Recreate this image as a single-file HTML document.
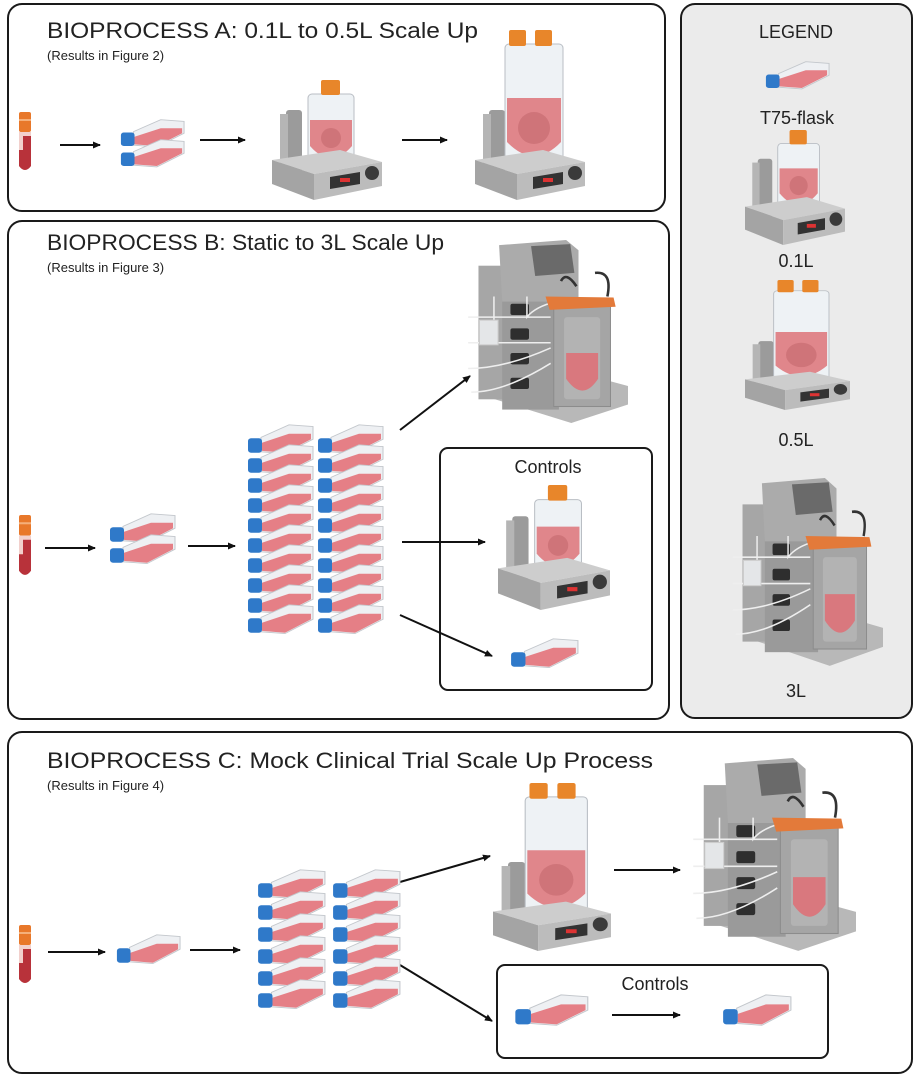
<!DOCTYPE html>
<html><head><meta charset="utf-8"><style>
html,body{margin:0;padding:0;background:#fff;}
svg{display:block;font-family:"Liberation Sans",sans-serif;}
</style></head><body>
<svg width="919" height="1078" viewBox="0 0 919 1078" xmlns="http://www.w3.org/2000/svg">
<defs>
<marker id="ah" markerWidth="8" markerHeight="8" refX="7" refY="4" orient="auto" markerUnits="userSpaceOnUse"><path d="M0,0.5 L8,4 L0,7.5 Z" fill="#111"/></marker>
<symbol id="tube" viewBox="0 0 14 60" preserveAspectRatio="none">
<rect x="1" y="0" width="12" height="20" rx="2" fill="#e8782a"/>
<rect x="1" y="7" width="12" height="2" fill="#f5b07a"/>
<path d="M1,20 H13 V54 Q7,62 1,54 Z" fill="#f2d0cc"/>
<path d="M5,24 H13 V54 Q7,62 1,54 V38 H5 Z" fill="#b8323a"/>
</symbol>
<symbol id="flask" viewBox="0 0 70 40" preserveAspectRatio="none">
<path d="M16,16 L44,2 L68,4 L68,18 L40,34 L16,32 Z" fill="#eef0f3" stroke="#c3c7cc" stroke-width="1"/>
<path d="M17,22 L44,12 L66,12 L66,18 L40,33 L17,31 Z" fill="#e57f86"/>
<rect x="3" y="17" width="14" height="16" rx="3" fill="#2f79c9"/>
</symbol>
<symbol id="stir" viewBox="0 0 110 120" preserveAspectRatio="none">
<rect x="14" y="30" width="16" height="62" rx="3" fill="#9b9b9b"/>
<rect x="8" y="34" width="8" height="56" fill="#b5b5b5"/>
<rect x="36" y="14" width="46" height="70" rx="4" fill="#eef2f5" stroke="#b9bec4"/>
<path d="M38,40 H80 V66 Q59,90 38,66 Z" fill="#e0868b"/>
<circle cx="59" cy="58" r="10" fill="#cf7479"/>
<rect x="49" y="0" width="19" height="15" rx="2" fill="#e8862a"/>
<polygon points="0,80 68,70 110,82 42,94" fill="#cdcdcd"/>
<polygon points="0,80 42,94 42,120 0,104" fill="#a4a4a4"/>
<polygon points="42,94 110,82 110,106 42,120" fill="#bcbcbc"/>
<polygon points="58,97 88,92 88,104 58,109" fill="#333"/>
<rect x="68" y="98" width="10" height="4" fill="#d33"/>
<circle cx="100" cy="93" r="7" fill="#3a3a3a"/>
</symbol>
<symbol id="big" viewBox="0 0 110 170" preserveAspectRatio="none">
<rect x="14" y="80" width="16" height="62" rx="3" fill="#9b9b9b"/>
<rect x="8" y="84" width="8" height="56" fill="#b5b5b5"/>
<rect x="30" y="14" width="58" height="122" rx="4" fill="#eef2f5" stroke="#b9bec4"/>
<path d="M32,68 H86 V112 Q59,140 32,112 Z" fill="#e0868b"/>
<circle cx="59" cy="98" r="16" fill="#cf7479"/>
<rect x="34" y="0" width="17" height="16" rx="2" fill="#e8862a"/>
<rect x="60" y="0" width="17" height="16" rx="2" fill="#e8862a"/>
<polygon points="0,130 68,120 110,132 42,144" fill="#cdcdcd"/>
<polygon points="0,130 42,144 42,170 0,154" fill="#a4a4a4"/>
<polygon points="42,144 110,132 110,156 42,170" fill="#bcbcbc"/>
<polygon points="58,147 88,142 88,154 58,159" fill="#333"/>
<rect x="68" y="148" width="10" height="4" fill="#d33"/>
<circle cx="100" cy="143" r="7" fill="#3a3a3a"/>
</symbol>
<symbol id="r3" viewBox="0 0 160 180" preserveAspectRatio="none">
<polygon points="15,150 105,178 160,160 160,142 70,118" fill="#b8b8b8"/>
<rect x="15" y="25" width="25" height="130" fill="#a6a6a6"/>
<rect x="38" y="45" width="55" height="120" fill="#9a9a9a"/>
<polygon points="35,5 100,0 112,10 112,60 38,60" fill="#ababab"/>
<polygon points="66,6 104,4 108,32 70,35" fill="#6a6a6a"/>
<g fill="#2e2e2e"><rect x="46" y="62" width="18" height="11" rx="2"/><rect x="46" y="86" width="18" height="11" rx="2"/><rect x="46" y="110" width="18" height="11" rx="2"/><rect x="46" y="134" width="18" height="11" rx="2"/></g>
<g fill="none" stroke="#eee" stroke-width="1.5"><path d="M5,75 H85"/><path d="M5,100 H85"/><path d="M5,125 Q40,125 85,105"/><path d="M8,148 Q40,148 85,120"/><path d="M30,55 V80 M62,55 V75 Q70,65 90,60"/></g>
<rect x="16" y="78" width="18" height="24" fill="#e4e6e8" stroke="#ccc"/>
<rect x="88" y="62" width="55" height="100" fill="#a5a5a5" stroke="#8c8c8c"/>
<polygon points="80,55 146,56 148,65 84,68" fill="#e37a3a"/>
<rect x="98" y="75" width="35" height="80" rx="3" fill="#b3b3b3"/>
<path d="M100,110 H131 V135 Q116,158 100,135 Z" fill="#d9787e"/>
<path d="M95,40 Q100,30 110,45 M128,32 Q145,30 140,55" fill="none" stroke="#333" stroke-width="2.5"/>
</symbol>
</defs>

<rect x="8" y="4" width="657" height="207" rx="14" fill="#fff" stroke="#1a1a1a" stroke-width="2"/>
<rect x="681" y="4" width="231" height="714" rx="14" fill="#ebebeb" stroke="#1a1a1a" stroke-width="2"/>
<rect x="8" y="221" width="661" height="498" rx="14" fill="#fff" stroke="#1a1a1a" stroke-width="2"/>
<rect x="8" y="732" width="904" height="341" rx="14" fill="#fff" stroke="#1a1a1a" stroke-width="2"/>
<rect x="440" y="448" width="212" height="242" rx="8" fill="#fff" stroke="#1a1a1a" stroke-width="2"/>
<rect x="497" y="965" width="331" height="93" rx="8" fill="#fff" stroke="#1a1a1a" stroke-width="2"/>

<g fill="#222">
<text x="47" y="38" font-size="22" textLength="431" lengthAdjust="spacingAndGlyphs">BIOPROCESS A: 0.1L to 0.5L Scale Up</text>
<text x="47" y="60" font-size="13">(Results in Figure 2)</text>
<text x="47" y="250" font-size="22" textLength="397" lengthAdjust="spacingAndGlyphs">BIOPROCESS B: Static to 3L Scale Up</text>
<text x="47" y="272" font-size="13">(Results in Figure 3)</text>
<text x="47" y="768" font-size="22" textLength="606" lengthAdjust="spacingAndGlyphs">BIOPROCESS C: Mock Clinical Trial Scale Up Process</text>
<text x="47" y="790" font-size="13">(Results in Figure 4)</text>
<g font-size="18" text-anchor="middle">
<text x="796" y="38">LEGEND</text>
<text x="797" y="124">T75-flask</text>
<text x="796" y="267">0.1L</text>
<text x="796" y="446">0.5L</text>
<text x="796" y="697">3L</text>
<text x="548" y="473">Controls</text>
<text x="655" y="990">Controls</text>
</g>
</g>

<g stroke="#111" stroke-width="2" marker-end="url(#ah)">
<line x1="60" y1="145" x2="100" y2="145"/>
<line x1="200" y1="140" x2="245" y2="140"/>
<line x1="402" y1="140" x2="447" y2="140"/>
<line x1="45" y1="548" x2="95" y2="548"/>
<line x1="188" y1="546" x2="235" y2="546"/>
<line x1="400" y1="430" x2="470" y2="376"/>
<line x1="402" y1="542" x2="485" y2="542"/>
<line x1="400" y1="615" x2="492" y2="656"/>
<line x1="48" y1="952" x2="105" y2="952"/>
<line x1="190" y1="950" x2="240" y2="950"/>
<line x1="400" y1="882" x2="490" y2="856"/>
<line x1="614" y1="870" x2="680" y2="870"/>
<line x1="400" y1="965" x2="492" y2="1021"/>
<line x1="612" y1="1015" x2="680" y2="1015"/>
</g>

<use href="#tube" x="18" y="112" width="14" height="60"/>
<use href="#flask" x="118" y="118" width="68" height="34"/>
<use href="#flask" x="118" y="138" width="68" height="34"/>
<use href="#stir" x="272" y="80" width="110" height="120"/>
<use href="#big" x="475" y="30" width="110" height="170"/>

<use href="#flask" x="763" y="60" width="68" height="34"/>
<use href="#stir" x="745" y="130" width="100" height="115"/>
<use href="#big" x="745" y="280" width="105" height="130"/>
<use href="#r3" x="728" y="478" width="155" height="190"/>

<use href="#tube" x="18" y="515" width="14" height="62"/>
<use href="#flask" x="107" y="512" width="70" height="36"/>
<use href="#flask" x="107" y="533" width="70" height="36"/>
<g>
<use href="#flask" x="245" y="423" width="70" height="36"/><use href="#flask" x="315" y="423" width="70" height="36"/>
<use href="#flask" x="245" y="443" width="70" height="36"/><use href="#flask" x="315" y="443" width="70" height="36"/>
<use href="#flask" x="245" y="463" width="70" height="36"/><use href="#flask" x="315" y="463" width="70" height="36"/>
<use href="#flask" x="245" y="483" width="70" height="36"/><use href="#flask" x="315" y="483" width="70" height="36"/>
<use href="#flask" x="245" y="503" width="70" height="36"/><use href="#flask" x="315" y="503" width="70" height="36"/>
<use href="#flask" x="245" y="523" width="70" height="36"/><use href="#flask" x="315" y="523" width="70" height="36"/>
<use href="#flask" x="245" y="543" width="70" height="36"/><use href="#flask" x="315" y="543" width="70" height="36"/>
<use href="#flask" x="245" y="563" width="70" height="36"/><use href="#flask" x="315" y="563" width="70" height="36"/>
<use href="#flask" x="245" y="583" width="70" height="36"/><use href="#flask" x="315" y="583" width="70" height="36"/>
<use href="#flask" x="245" y="603" width="70" height="36"/><use href="#flask" x="315" y="603" width="70" height="36"/>
</g>
<use href="#r3" x="463" y="240" width="165" height="185"/>
<use href="#stir" x="498" y="485" width="112" height="125"/>
<use href="#flask" x="508" y="637" width="72" height="36"/>

<use href="#tube" x="18" y="925" width="14" height="60"/>
<use href="#flask" x="114" y="933" width="68" height="36"/>
<g>
<use href="#flask" x="255" y="868" width="72" height="36"/><use href="#flask" x="330" y="868" width="72" height="36"/>
<use href="#flask" x="255" y="890" width="72" height="36"/><use href="#flask" x="330" y="890" width="72" height="36"/>
<use href="#flask" x="255" y="912" width="72" height="36"/><use href="#flask" x="330" y="912" width="72" height="36"/>
<use href="#flask" x="255" y="934" width="72" height="36"/><use href="#flask" x="330" y="934" width="72" height="36"/>
<use href="#flask" x="255" y="956" width="72" height="36"/><use href="#flask" x="330" y="956" width="72" height="36"/>
<use href="#flask" x="255" y="978" width="72" height="36"/><use href="#flask" x="330" y="978" width="72" height="36"/>
</g>
<use href="#big" x="493" y="783" width="118" height="168"/>
<use href="#r3" x="688" y="758" width="168" height="195"/>
<use href="#flask" x="512" y="993" width="78" height="38"/>
<use href="#flask" x="720" y="993" width="73" height="38"/>
</svg>
</body></html>
